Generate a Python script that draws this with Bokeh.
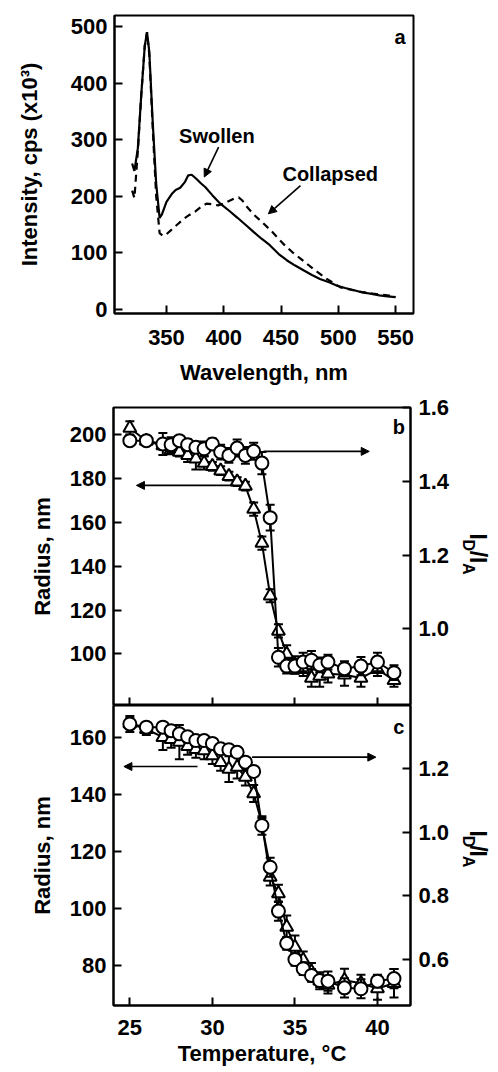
from bokeh.plotting import figure
from bokeh.layouts import column, row
from bokeh.models import (Range1d, LinearAxis, FixedTicker, Label, Arrow, NormalHead,
                          PrintfTickFormatter)
from bokeh.embed import file_html
from bokeh.resources import INLINE

# ---------------- data ----------------
# panel a: emission spectra
wl_swollen = [320, 322, 325, 328, 331, 333, 335, 338, 341, 344, 346, 350, 355, 358, 362,
              366, 369, 372, 376, 380, 384, 390, 397, 405, 412, 420, 426, 433, 440, 448,
              455, 462, 470, 477, 484, 492, 499, 506, 514, 521, 528, 536, 543, 550]
int_swollen = [258, 245, 285, 380, 465, 490, 455, 330, 222, 162, 168, 190, 205, 211, 215,
               225, 237, 238, 231, 223, 216, 202, 187, 174, 162, 148, 137, 125, 114, 98,
               87, 78, 69, 61, 54, 48, 42, 38, 34, 30, 28, 25, 23, 22]
wl_collapsed = [320, 322, 325, 328, 331, 333, 335, 338, 341, 344, 347, 350, 355, 360, 365,
                370, 375, 380, 385, 390, 395, 400, 406, 410, 413, 416, 420, 426, 432, 441,
                452, 460, 467, 478, 490, 502, 513, 520, 530, 543, 550]
int_collapsed = [210, 197, 280, 380, 465, 490, 450, 320, 200, 135, 130, 133, 142, 151, 160,
                 167, 173, 181, 187, 186, 184, 187, 193, 197, 198, 193, 182, 168, 157, 140,
                 116, 101, 90, 72, 54, 39, 34, 31, 28, 25, 22]

# panels b and c: temperature scans
temp = [25, 26, 27, 27.5, 28, 28.5, 29, 29.5, 30, 30.5, 31, 31.5, 32, 32.5, 33, 33.5,
        34, 34.5, 35, 35.5, 36, 36.5, 37, 38, 39, 40, 41]

ratio_b = [1.511, 1.511, 1.502, 1.500, 1.511, 1.500, 1.493, 1.489, 1.502, 1.480, 1.471,
           1.491, 1.471, 1.482, 1.450, 1.302, 0.923, 0.899, 0.899, 0.910, 0.915, 0.902,
           0.910, 0.892, 0.899, 0.910, 0.881]
ratio_err_b = [0.010, 0.010, 0.030, 0.020, 0.010, 0.015, 0.015, 0.020, 0.015, 0.020, 0.020,
               0.023, 0.023, 0.023, 0.030, 0.035, 0.025, 0.020, 0.020, 0.025, 0.025, 0.020,
               0.020, 0.020, 0.025, 0.025, 0.020]
radius_b = [203, 197, 195, 193, 192, 190.5, 189, 187, 185.5, 183.5, 181, 178.5, 176.5, 166,
            150.5, 126.5, 110.5, 100, 95, 93, 89, 90, 91, 90.5, 89, 93, 88]
radius_err_b = [3, 2, 2, 2, 2, 3, 5, 3, 2, 2, 2, 2, 2, 3, 3, 3, 3, 4, 4, 3, 4, 5, 4, 5, 4, 3, 3]

ratio_c = [1.340, 1.330, 1.330, 1.319, 1.309, 1.300, 1.288, 1.288, 1.279, 1.262, 1.259,
           1.251, 1.220, 1.191, 1.021, 0.890, 0.752, 0.651, 0.600, 0.571, 0.550, 0.534,
           0.532, 0.511, 0.508, 0.532, 0.540]
ratio_err_c = [0.025, 0.010, 0.010, 0.010, 0.010, 0.010, 0.010, 0.010, 0.010, 0.010, 0.010,
               0.010, 0.010, 0.010, 0.029, 0.030, 0.030, 0.020, 0.020, 0.020, 0.020, 0.020,
               0.030, 0.030, 0.030, 0.020, 0.030]
radius_c = [165, 163, 160.2, 159.5, 158.5, 157, 156, 155.5, 153.8, 151.4, 149, 149.7, 146.2,
            140.4, 129.8, 111.1, 105.3, 93.5, 86.5, 81.9, 77.8, 74.6, 73.1, 74.8, 73.7,
            71.9, 73.7]
radius_err_c = [2, 2, 4.5, 3, 6, 3, 3, 3, 3, 3, 4.5, 4, 3, 3, 2, 3, 3, 4, 4, 3, 3, 3, 3,
                4, 3, 4, 5]

wl_ticks = [350, 400, 450, 500, 550]
int_ticks = [0, 100, 200, 300, 400, 500]
temp_ticks = [25, 30, 35, 40]
radius_ticks_b = [100, 120, 140, 160, 180, 200]
ratio_ticks_b = [1.0, 1.2, 1.4, 1.6]
radius_ticks_c = [80, 100, 120, 140, 160]
ratio_ticks_c = [0.6, 0.8, 1.0, 1.2]

# ---------------- styling helpers ----------------
FONT = "Liberation Sans"
WA = 498      # width of panel a figure
WB = 456      # width of panel b / c figures
WS = 42       # width of the side strip holding the I_D/I_A titles


def style_axis(ax, ticks, label_px="22px", standoff=7):
    ax.ticker = FixedTicker(ticks=ticks)
    ax.axis_line_width = 2
    ax.axis_line_color = "black"
    ax.major_tick_line_width = 2
    ax.major_tick_line_color = "black"
    ax.major_tick_in = 8
    ax.major_tick_out = 0
    ax.minor_tick_line_color = None
    ax.major_label_text_font = FONT
    ax.major_label_text_font_style = "bold"
    ax.major_label_text_font_size = label_px
    ax.major_label_text_color = "black"
    ax.major_label_standoff = standoff
    ax.axis_label_text_font = FONT
    ax.axis_label_text_font_style = "bold"
    ax.axis_label_text_font_size = "22px"
    ax.axis_label_text_color = "black"


def base_fig(width, height, xr, yr, left, right, top, bottom):
    p = figure(width=width, height=height, x_range=xr, y_range=yr,
               output_backend="svg", toolbar_location=None,
               min_border_left=left, min_border_right=right,
               min_border_top=top, min_border_bottom=bottom)
    p.xgrid.visible = False
    p.ygrid.visible = False
    p.outline_line_color = "black"
    p.outline_line_width = 2
    p.outline_line_alpha = 1.0
    p.background_fill_color = "white"
    p.border_fill_color = "white"
    return p


def add_text(p, x, y, text, size="20px", align="center", baseline="middle", angle=0.0):
    p.add_layout(Label(x=x, y=y, text=text, text_font=FONT, text_font_style="bold",
                       text_font_size=size, text_color="black", text_align=align,
                       text_baseline=baseline, angle=angle))


def add_arrow(p, x0, y0, x1, y1):
    p.add_layout(Arrow(end=NormalHead(size=8, fill_color="black", line_color="black",
                                      line_width=1),
                       x_start=x0, y_start=y0, x_end=x1, y_end=y1,
                       line_color="black", line_width=1.6))


def draw_series(p, x, y, err, marker, range_name="default"):
    lo = [a - e for a, e in zip(y, err)]
    hi = [a + e for a, e in zip(y, err)]
    p.segment(x0=x, y0=lo, x1=x, y1=hi, line_color="black", line_width=2,
              y_range_name=range_name)
    p.scatter(x=list(x) + list(x), y=lo + hi, marker="dash", size=9, line_color="black",
              line_width=2, y_range_name=range_name)
    p.line(x=x, y=y, line_color="black", line_width=2, y_range_name=range_name)
    p.scatter(x=x, y=y, marker=marker, size=13, fill_color="white", line_color="black",
              line_width=2, y_range_name=range_name)


def side_title(height, top):
    # narrow strip (pixel coordinates, y downward) carrying I_D/I_A written sideways
    s = figure(width=WS, height=height, x_range=Range1d(0, WS), y_range=Range1d(height, 0),
               x_axis_type=None, y_axis_type=None, output_backend="svg",
               toolbar_location=None, min_border_left=0, min_border_right=0,
               min_border_top=0, min_border_bottom=0)
    s.xgrid.visible = False
    s.ygrid.visible = False
    s.outline_line_color = None
    s.background_fill_color = "white"
    s.border_fill_color = "white"
    ang = -1.5707963
    pieces = [("I", "23px", 21, 6.4), ("D", "16px", 12, 11.6), ("/", "23px", 21, 6.4),
              ("I", "23px", 21, 6.4), ("A", "16px", 12, 11.6)]
    y = top
    for txt, size, x, adv in pieces:
        add_text(s, x, y, txt, size=size, align="left", baseline="alphabetic", angle=ang)
        y += adv
    return s


# ---------------- panel a ----------------
pa = base_fig(WA, 395, Range1d(304.6, 565.7), Range1d(-7.1, 519.4), 114, WA - 413, 15, 82)
style_axis(pa.xaxis[0], wl_ticks, standoff=16)
style_axis(pa.yaxis[0], int_ticks)
pa.xaxis[0].axis_label = "Wavelength, nm"
pa.xaxis[0].axis_label_standoff = 12
pa.yaxis[0].axis_label = "Intensity, cps (x10³)"
pa.yaxis[0].axis_label_standoff = 26
pa.line(wl_swollen, int_swollen, line_color="black", line_width=2.2)
pa.line(wl_collapsed, int_collapsed, line_color="black", line_width=2.2, line_dash="7 5")
add_text(pa, 394, 307, "Swollen")
add_text(pa, 493, 240, "Collapsed")
add_text(pa, 554, 481, "a")
add_arrow(pa, 395.5, 287, 383, 234)
add_arrow(pa, 467, 219, 439, 169)

# ---------------- panel b ----------------
HB = 310
pb = base_fig(WB, HB, Range1d(24.01, 42.0), Range1d(76.5, 212.3), 113, WB - 410, 12, 0)
pb.extra_y_ranges = {"right": Range1d(0.792, 1.601)}
style_axis(pb.yaxis[0], radius_ticks_b)
pb.yaxis[0].axis_label = "Radius, nm"
pb.yaxis[0].axis_label_standoff = 12
style_axis(pb.xaxis[0], temp_ticks, label_px="0px", standoff=0)
pb.xaxis[0].major_label_text_color = None
rb = LinearAxis(y_range_name="right")
style_axis(rb, ratio_ticks_b, standoff=8)
rb.formatter = PrintfTickFormatter(format="%.1f")
pb.add_layout(rb, "right")
draw_series(pb, temp, radius_b, radius_err_b, "triangle")
draw_series(pb, temp, ratio_b, ratio_err_b, "circle", "right")
add_arrow(pb, 31.3, 176.8, 25.4, 176.8)
add_arrow(pb, 33.1, 192.3, 39.5, 192.3)
add_text(pb, 41.29, 203.3, "b")
sb = side_title(HB, 131.0)

# ---------------- panel c ----------------
HC = 367
pc = base_fig(WB, HC, Range1d(24.01, 42.0), Range1d(65.9, 171.35), 113, WB - 410, 0, 67)
pc.extra_y_ranges = {"right": Range1d(0.4555, 1.398)}
style_axis(pc.yaxis[0], radius_ticks_c)
pc.yaxis[0].axis_label = "Radius, nm"
pc.yaxis[0].axis_label_standoff = 12
style_axis(pc.xaxis[0], temp_ticks, standoff=14)
pc.xaxis[0].axis_label = "Temperature, °C"
pc.xaxis[0].axis_label_standoff = 3
rc = LinearAxis(y_range_name="right")
style_axis(rc, ratio_ticks_c, standoff=8)
rc.formatter = PrintfTickFormatter(format="%.1f")
pc.add_layout(rc, "right")
draw_series(pc, temp, radius_c, radius_err_c, "triangle")
draw_series(pc, temp, ratio_c, ratio_err_c, "circle", "right")
add_arrow(pc, 29.1, 149.9, 24.64, 149.9)
add_arrow(pc, 32.4, 153.2, 39.9, 153.2)
add_text(pc, 41.29, 163.7, "c")
sc = side_title(HC, 153.0)

layout = column(pa, row(pb, sb, spacing=0), row(pc, sc, spacing=0), spacing=0)
open("out.html", "w").write(file_html(layout, INLINE))
